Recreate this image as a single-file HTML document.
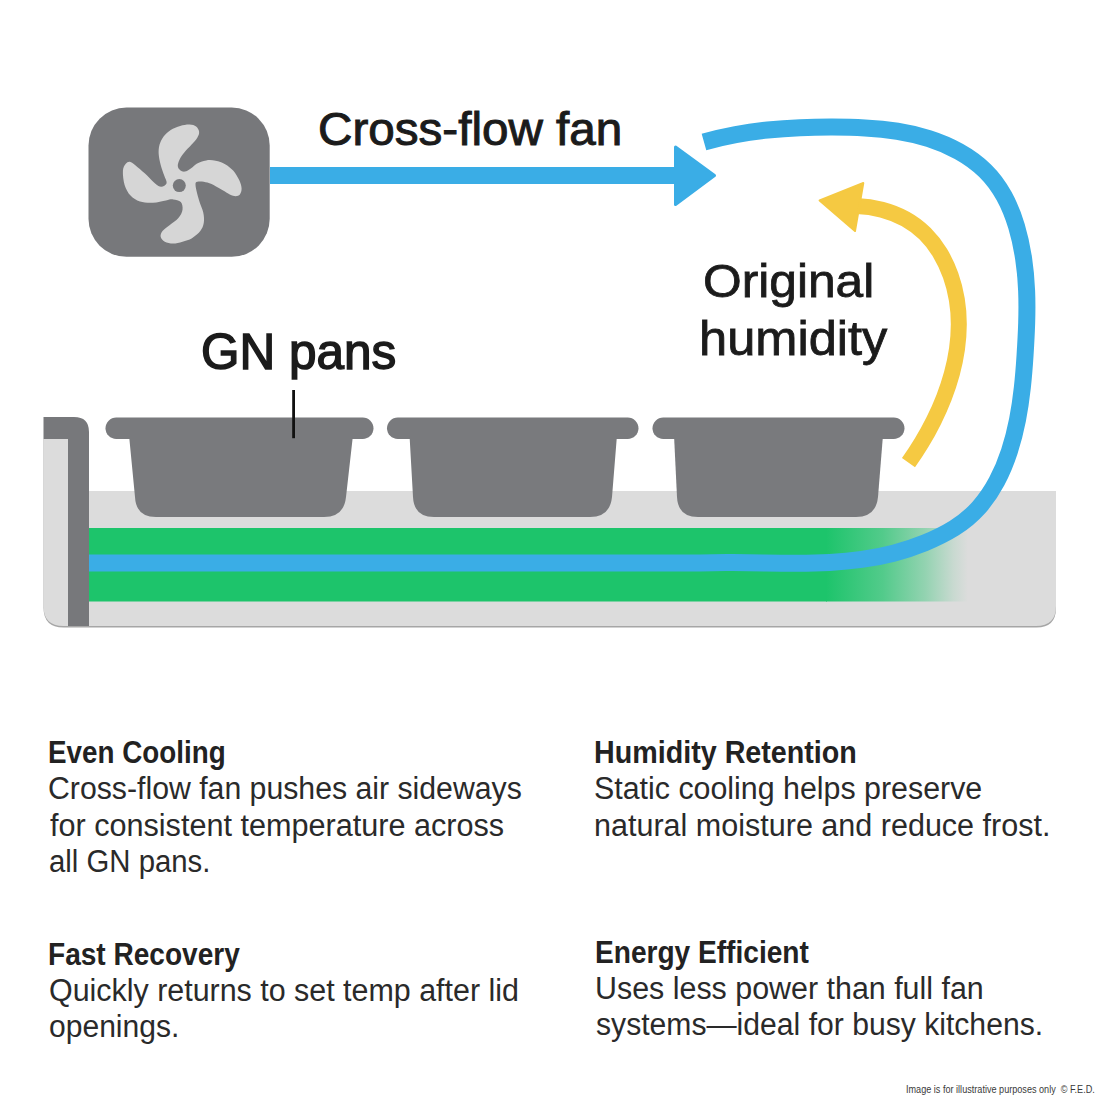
<!DOCTYPE html>
<html><head><meta charset="utf-8">
<style>
html,body{margin:0;padding:0;background:#fff;}
body{width:1100px;height:1100px;position:relative;overflow:hidden;font-family:"Liberation Sans",sans-serif;}
svg{position:absolute;left:0;top:0;}
.t{position:absolute;white-space:nowrap;line-height:1;transform-origin:0 0;}
.note{position:absolute;white-space:nowrap;font-size:9px;line-height:1;color:#333;}
</style></head><body>
<svg width="1100" height="1100" viewBox="0 0 1100 1100">
  <defs>
    <linearGradient id="gfade" x1="826" y1="0" x2="968" y2="0" gradientUnits="userSpaceOnUse">
      <stop offset="0" stop-color="#1dc46b" stop-opacity="1"/>
      <stop offset="0.4" stop-color="#1dc46b" stop-opacity="0.72"/>
      <stop offset="0.7" stop-color="#1dc46b" stop-opacity="0.38"/>
      <stop offset="0.9" stop-color="#1dc46b" stop-opacity="0.1"/>
      <stop offset="1" stop-color="#1dc46b" stop-opacity="0"/>
    </linearGradient>
  </defs>
  <rect x="88.5" y="107.5" width="181.2" height="149.3" rx="38" ry="38" fill="#77787b"/>
  <path d="M 189.6 124.5 C 192.3 124.6 194.6 125.3 196.1 126.5 C 197.7 127.7 198.9 129.9 199.1 131.8 C 199.3 133.7 198.6 135.6 197.3 137.7 C 196.0 139.9 193.6 142.4 191.4 144.8 C 189.2 147.3 186.3 150.0 184.3 152.5 C 182.3 155.0 180.7 157.3 179.6 159.6 C 178.5 161.9 177.7 164.3 177.8 166.1 C 177.9 167.9 179.0 169.3 180.2 170.2 C 181.4 171.2 183.1 171.9 184.9 171.6 C 186.7 171.4 188.8 169.8 190.8 168.5 C 192.8 167.1 194.2 165.1 196.7 163.7 C 199.3 162.4 203.0 160.9 206.2 160.4 C 209.3 159.9 212.5 160.1 215.6 160.8 C 218.8 161.4 222.1 162.6 225.1 164.3 C 228.0 166.0 231.0 168.2 233.4 170.8 C 235.7 173.5 237.9 177.3 239.3 180.3 C 240.7 183.2 241.5 186.2 241.6 188.5 C 241.7 190.9 240.8 193.2 239.9 194.5 C 238.9 195.7 237.4 196.2 235.7 196.2 C 234.1 196.2 232.0 195.4 229.8 194.5 C 227.7 193.5 225.1 191.7 222.7 190.3 C 220.4 188.9 218.2 187.5 215.6 186.2 C 213.1 184.9 210.1 183.4 207.4 182.6 C 204.6 181.8 201.1 181.2 199.1 181.5 C 197.1 181.8 195.5 181.3 195.5 184.4 C 195.5 187.6 197.8 195.7 199.1 200.4 C 200.4 205.0 202.4 208.4 203.2 212.2 C 204.0 215.9 204.3 219.7 203.8 222.8 C 203.3 226.0 202.2 228.5 200.3 231.1 C 198.3 233.7 195.0 236.4 192.0 238.2 C 189.0 240.0 185.7 240.8 182.5 241.7 C 179.4 242.6 176.0 243.5 173.1 243.5 C 170.1 243.5 166.9 242.8 164.8 241.7 C 162.8 240.6 161.1 238.8 160.7 237.0 C 160.3 235.2 161.0 233.1 162.5 231.1 C 163.9 229.1 166.9 227.3 169.5 225.2 C 172.2 223.0 176.2 220.7 178.4 218.1 C 180.6 215.5 182.2 212.5 182.5 209.8 C 182.9 207.2 182.3 203.9 180.8 202.1 C 179.2 200.4 175.6 199.7 173.1 199.4 C 170.6 199.1 169.3 199.8 166.0 200.4 C 162.7 200.9 157.3 202.5 153.0 202.7 C 148.7 202.9 143.7 202.7 140.0 201.5 C 136.3 200.4 133.1 198.4 130.5 195.6 C 128.0 192.9 125.9 189.1 124.6 185.0 C 123.4 180.9 122.7 174.4 122.9 170.8 C 123.1 167.3 124.5 165.2 125.8 163.7 C 127.1 162.3 128.6 161.4 130.5 162.0 C 132.5 162.5 134.9 165.0 137.6 167.3 C 140.4 169.5 144.1 172.8 147.1 175.5 C 150.0 178.3 153.0 181.9 155.4 183.8 C 157.7 185.7 159.4 186.9 161.3 186.8 C 163.1 186.7 166.1 185.1 166.6 183.2 C 167.1 181.4 165.2 178.6 164.2 175.5 C 163.2 172.5 161.6 168.5 160.7 164.9 C 159.8 161.4 158.9 157.6 158.7 154.3 C 158.5 150.9 158.7 147.8 159.5 144.8 C 160.3 141.9 161.8 139.0 163.6 136.5 C 165.5 134.1 168.0 131.8 170.7 130.0 C 173.5 128.3 177.0 126.8 180.2 125.9 C 183.3 125.0 187.0 124.4 189.6 124.5 Z" fill="#d6d6d6"/>
  <circle cx="179.3" cy="185.6" r="6.5" fill="#77787b"/>
  <rect x="270" y="167" width="408" height="17" fill="#3aade6"/>
  <path d="M 675.5 147 L 714.5 175.5 L 675.5 204.5 Z" fill="#3aade6" stroke="#3aade6" stroke-width="3" stroke-linejoin="round"/>
  <path d="M 43.5 439 L 89 439 L 89 491 L 1056 491 L 1056 608 Q 1056 627.5 1036.5 627.5 L 63.5 627.5 Q 43.5 627.5 43.5 607.5 Z" fill="#a6a6a6"/>
  <path d="M 43.5 439 L 89 439 L 89 491 L 1056 491 L 1056 606 Q 1056 626 1036 626 L 63.5 626 Q 43.5 626 43.5 606 Z" fill="#dcdcdc"/>
  <path d="M 43.5 417 L 74 417 Q 89 417 89 432 L 89 626 L 68 626 L 68 439 L 43.5 439 Z" fill="#77787b"/>
  <rect x="89" y="528" width="738" height="73.5" fill="#1dc46b"/>
  <rect x="826" y="528" width="142" height="73.5" fill="url(#gfade)"/>
  <g fill="#797a7d">
    <rect x="105.5" y="417.5" width="268" height="21.5" rx="10.75"/>
    <path d="M 129 435 L 353 435 L 346 497 Q 344 517 324 517 L 156 517 Q 136 517 135 497 Z"/>
    <rect x="387" y="417.5" width="251.5" height="21.5" rx="10.75"/>
    <path d="M 409.5 435 L 617 435 L 612 497 Q 610 517 590 517 L 434 517 Q 414 517 413 497 Z"/>
    <rect x="652.5" y="417.5" width="252" height="21.5" rx="10.75"/>
    <path d="M 674 435 L 883 435 L 878 497 Q 876 517 856 517 L 698 517 Q 678 517 677 497 Z"/>
  </g>
  <rect x="292.2" y="390" width="2.8" height="48.2" fill="#111"/>
  <path d="M 703.97 141.97 C 714.51 138.99 725.09 136.56 735.71 134.60 C 746.33 132.64 757.00 131.14 767.70 130.02 C 778.41 128.90 789.15 128.15 799.94 127.69 C 810.72 127.23 821.54 127.06 832.40 127.08 C 843.26 127.11 854.16 127.31 865.02 127.92 C 875.88 128.53 886.69 129.56 897.37 131.26 C 908.05 132.96 918.59 135.33 928.91 138.63 C 939.22 141.92 949.38 146.16 958.92 151.46 C 968.46 156.77 977.34 163.12 984.99 170.60 C 992.65 178.09 998.97 186.76 1004.15 196.20 C 1009.33 205.65 1013.38 215.87 1016.55 226.40 C 1019.71 236.94 1021.99 247.77 1023.61 258.52 C 1025.24 269.28 1026.18 280.02 1026.62 290.74 C 1027.06 301.47 1027.00 312.19 1026.67 322.94 C 1026.33 333.68 1025.74 344.45 1025.05 355.25 C 1024.36 366.06 1023.52 376.90 1022.33 387.69 C 1021.14 398.48 1019.60 409.23 1017.51 419.87 C 1015.42 430.51 1012.78 441.04 1009.39 451.37 C 1006.01 461.71 1001.88 471.82 996.83 481.33 C 991.78 490.83 985.81 499.74 978.74 507.65 C 971.67 515.57 963.40 522.40 954.17 528.15 C 944.95 533.90 934.95 538.70 924.77 542.85 C 914.58 547.01 904.13 550.46 893.60 553.20 C 883.07 555.94 872.49 557.96 861.85 559.44 C 851.21 560.92 840.52 561.86 829.78 562.45 C 819.04 563.03 808.24 563.26 797.41 563.31 C 786.59 563.35 775.73 563.20 764.88 563.03 C 754.03 562.86 743.18 562.66 732.35 562.60 C 721.53 562.54 710.74 562.62 700.00 563.01 L 89 563" fill="none" stroke="#3aade6" stroke-width="17" stroke-linecap="butt" stroke-linejoin="round"/>
  <path d="M 856.66 205.96 C 865.24 206.26 873.79 207.50 882.02 209.67 C 890.26 211.85 898.16 214.95 905.42 218.97 C 912.68 222.99 919.25 227.95 925.03 233.69 C 930.81 239.44 935.82 245.95 940.09 252.99 C 944.36 260.03 947.88 267.59 950.67 275.45 C 953.46 283.30 955.51 291.45 956.85 299.64 C 958.19 307.84 958.81 316.10 958.81 324.37 C 958.80 332.65 958.16 340.93 956.98 349.16 C 955.80 357.40 954.06 365.59 951.87 373.69 C 949.67 381.78 947.01 389.78 943.96 397.63 C 940.92 405.48 937.49 413.17 933.77 420.66 C 930.04 428.15 926.02 435.44 921.78 442.46 C 917.53 449.49 913.08 456.26 908.49 462.71" fill="none" stroke="#f5c942" stroke-width="16" stroke-linecap="butt" stroke-linejoin="round"/>
  <path d="M 819.6 200.5 L 863.3 183 L 855 231 Z" fill="#f5c942" stroke="#f5c942" stroke-width="2" stroke-linejoin="round"/>
</svg>
<div class="t" style="left:318.0px;top:105.7px;font-size:46.5px;font-weight:400;color:#1b1b1b;transform:scaleX(1.0239);-webkit-text-stroke:1.0px #1b1b1b;">Cross-flow fan</div>
<div class="t" style="left:201.0px;top:327.4px;font-size:50px;font-weight:400;color:#1b1b1b;transform:scaleX(0.9897);-webkit-text-stroke:1.5px #1b1b1b;">GN pans</div>
<div class="t" style="left:703.0px;top:257.3px;font-size:47px;font-weight:400;color:#1b1b1b;transform:scaleX(1.0573);-webkit-text-stroke:0.8px #1b1b1b;">Original</div>
<div class="t" style="left:698.5px;top:314.9px;font-size:47.5px;font-weight:400;color:#1b1b1b;transform:scaleX(1.0649);-webkit-text-stroke:0.8px #1b1b1b;">humidity</div>
<div class="t" style="left:48.0px;top:737.1px;font-size:31px;font-weight:700;color:#222;transform:scaleX(0.8969);">Even Cooling</div>
<div class="t" style="left:48.0px;top:773.2px;font-size:31px;font-weight:400;color:#2a2a2a;transform:scaleX(0.9752);">Cross-flow fan pushes air sideways</div>
<div class="t" style="left:50.0px;top:810.0px;font-size:31px;font-weight:400;color:#2a2a2a;transform:scaleX(0.9869);">for consistent temperature across</div>
<div class="t" style="left:49.0px;top:845.6px;font-size:31px;font-weight:400;color:#2a2a2a;transform:scaleX(0.9461);">all GN pans.</div>
<div class="t" style="left:594.0px;top:736.8px;font-size:31px;font-weight:700;color:#222;transform:scaleX(0.925);">Humidity Retention</div>
<div class="t" style="left:594.0px;top:773.0px;font-size:31px;font-weight:400;color:#2a2a2a;transform:scaleX(0.9796);">Static cooling helps preserve</div>
<div class="t" style="left:594.0px;top:809.6px;font-size:31px;font-weight:400;color:#2a2a2a;transform:scaleX(0.9847);">natural moisture and reduce frost.</div>
<div class="t" style="left:48.0px;top:938.6px;font-size:31px;font-weight:700;color:#222;transform:scaleX(0.9048);">Fast Recovery</div>
<div class="t" style="left:49.0px;top:974.6px;font-size:31px;font-weight:400;color:#2a2a2a;transform:scaleX(0.9811);">Quickly returns to set temp after lid</div>
<div class="t" style="left:49.0px;top:1011.3px;font-size:31px;font-weight:400;color:#2a2a2a;transform:scaleX(0.9695);">openings.</div>
<div class="t" style="left:595.0px;top:936.8px;font-size:31px;font-weight:700;color:#222;transform:scaleX(0.906);">Energy Efficient</div>
<div class="t" style="left:595.0px;top:973.0px;font-size:31px;font-weight:400;color:#2a2a2a;transform:scaleX(0.9809);">Uses less power than full fan</div>
<div class="t" style="left:596.0px;top:1009.3px;font-size:31px;font-weight:400;color:#2a2a2a;transform:scaleX(0.9719);">systems—ideal for busy kitchens.</div>
<div class="t" style="left:905.8px;top:1085.3px;font-size:10px;font-weight:400;color:#3a3a3a;transform:scaleX(0.9102);">Image is for illustrative purposes only  © F.E.D.</div>

</body></html>
